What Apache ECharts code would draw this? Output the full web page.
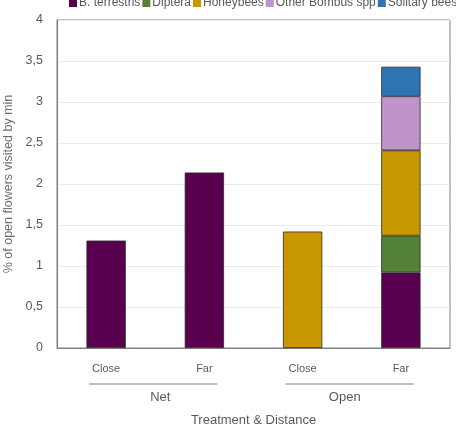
<!DOCTYPE html>
<html><head><meta charset="utf-8">
<script src="https://cdn.jsdelivr.net/npm/echarts@6/dist/echarts.min.js"></script>
<style>html,body{margin:0;padding:0;background:#fff}#c{width:456px;height:427px}</style>
</head><body><div id="c"></div>
<script>
const categories = ["Close", "Far", "Close", "Far"];
const groups = ["Net", "Open"];
const seriesNames = ["B. terrestris", "Diptera", "Honeybees", "Other Bombus spp", "Solitary bees"];
const bTerrestris = [1.31, 2.14, 0, 0.92];
const diptera = [0, 0, 0, 0.45];
const honeybees = [0, 0, 1.42, 1.04];
const otherBombus = [0, 0, 0, 0.66];
const solitaryBees = [0, 0, 0, 0.36];
const yTicks = [0, 0.5, 1, 1.5, 2, 2.5, 3, 3.5, 4];
const colors = ["#58004f", "#538135", "#c99700", "#c093cc", "#2e75b6"];

const chart = echarts.init(document.getElementById('c'));
const values = [bTerrestris, diptera, honeybees, otherBombus, solitaryBees];
const txt = '#595959';
const font = 'Liberation Sans, Arial, sans-serif';
const option = {
  animation: false,
  textStyle: {fontFamily: font},
  legend: {
    top: -8, left: 64, width: 800, itemWidth: 8, itemHeight: 8, itemGap: 2, icon: 'rect',
    itemStyle: {borderWidth: 0},
    textStyle: {color: txt, fontSize: 12, fontFamily: font, padding: [0,0,0,-3]},
    data: seriesNames
  },
  grid: {left: 57, right: 6, top: 20, bottom: 79, show: true, borderColor: '#808080', borderWidth: 1,
    containLabel: false, outerBoundsMode: 'none'},
  xAxis: [{
    type: 'category', data: categories,
    axisLine: {lineStyle: {color: '#808080'}},
    axisTick: {show: false},
    axisLabel: {color: txt, fontSize: 11, margin: 15, fontFamily: font}
  }, {
    type: 'category', data: groups, position: 'bottom', offset: 36,
    axisLine: {show: false}, axisTick: {show: false},
    axisLabel: {color: txt, fontSize: 13, margin: 7, fontFamily: font,
      formatter: v => v === 'Net' ? '{n|' + v + '}' : '{o|' + v + '}',
      rich: {n: {padding: [0,0,0,10], fontSize: 13, color: txt}, o: {padding: [0,14,0,0], fontSize: 13, color: txt}}},
    name: 'Treatment & Distance', nameLocation: 'middle', nameGap: 30,
    nameTextStyle: {color: txt, fontSize: 13, fontFamily: font}
  }],
  yAxis: {
    type: 'value', min: yTicks[0], max: yTicks[yTicks.length-1], interval: 0.5,
    axisLine: {show: true, lineStyle: {color: '#808080'}},
    axisTick: {show: false},
    splitLine: {lineStyle: {color: '#ebebeb'}},
    axisLabel: {color: txt, fontSize: 12.5, margin: 14, fontFamily: font,
      formatter: v => String(v).replace('.', ',')},
    name: '% of open flowers visited by min', nameLocation: 'middle', nameGap: 34,
    nameTextStyle: {color: '#6f6f6f', fontSize: 12.5, fontFamily: font}
  },
  series: seriesNames.map((n, i) => ({
    name: n, type: 'bar', stack: 'total', barWidth: '40%', xAxisIndex: 0,
    data: values[i].map(v => v === 0 ? null : v),
    itemStyle: {color: colors[i], borderColor: '#2a2a2a', borderWidth: 0.8},
    emphasis: {disabled: true}
  }))
};
chart.setOption(option);

const y0 = chart.convertToPixel({yAxisIndex: 0}, 0) + 36;
const gfx = [];
for (let g = 0; g < 2; g++) {
  const xa = chart.convertToPixel({xAxisIndex: 0}, 2*g);
  const xb = chart.convertToPixel({xAxisIndex: 0}, 2*g+1);
  gfx.push({type: 'line', shape: {x1: xa - 17, y1: y0, x2: xb + 13, y2: y0},
    style: {stroke: '#808080', lineWidth: 1}});
}
chart.setOption({graphic: gfx});
</script></body></html>
